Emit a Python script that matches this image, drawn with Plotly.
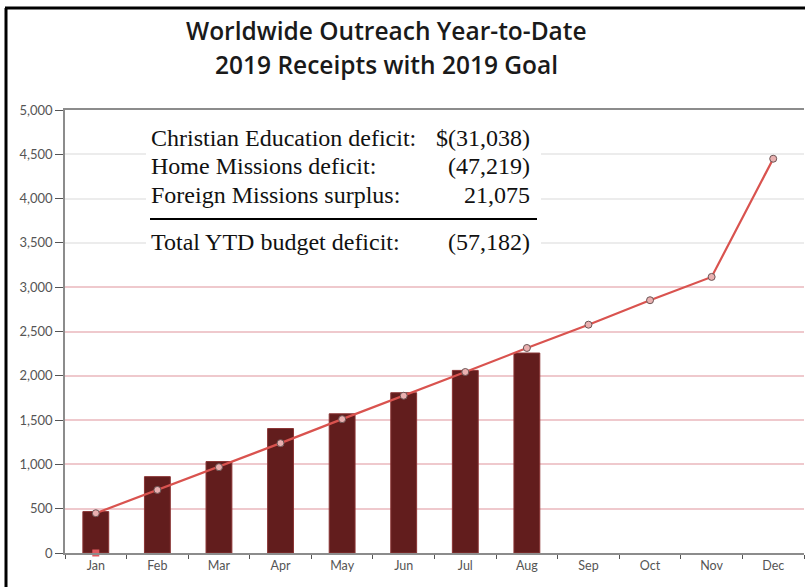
import plotly.graph_objects as go

months = ["Jan", "Feb", "Mar", "Apr", "May", "Jun", "Jul", "Aug", "Sep", "Oct", "Nov", "Dec"]
receipts = [467, 862, 1032, 1405, 1571, 1809, 2061, 2257]
goal = [449, 712, 969, 1240, 1511, 1775, 2043, 2314, 2577, 2853, 3116, 4450]
start_marker = [0]
y_ticks = [0, 500, 1000, 1500, 2000, 2500, 3000, 3500, 4000, 4500, 5000]
pink_grid_ticks = [500, 1000, 1500, 2000, 2500, 3000]

summary_labels = ["Christian Education deficit:", "Home Missions deficit:",
                  "Foreign Missions surplus:", "Total YTD budget deficit:"]
summary_values = ["$(31,038)", "(47,219)", "21,075", "(57,182)"]

L, R, T, B = 65, 1, 110, 34
W, H = 805, 587
pw, ph = W - L - R, H - T - B

def px(x):
    return (x - L) / pw

def py(y):
    return (H - B - y) / ph

fig = go.Figure()
fig.add_trace(go.Bar(x=months[:len(receipts)], y=receipts, width=0.42,
                     marker=dict(color="#621d1d", line=dict(color="#8a3434", width=1)),
                     showlegend=False))
fig.add_trace(go.Scatter(x=months, y=goal, mode="lines+markers",
                         line=dict(color="#d9534f", width=2.2),
                         marker=dict(symbol="circle", size=7, color="#e9b0b0",
                                     line=dict(color="#6b5555", width=1)),
                         showlegend=False))
fig.add_trace(go.Scatter(x=months[:1], y=start_marker, mode="markers", yaxis="y2",
                         marker=dict(symbol="square", size=7, color="#e05a5f"),
                         cliponaxis=False, showlegend=False))

shapes = [
    dict(type="rect", xref="paper", yref="paper", x0=px(146), x1=px(541), y0=py(257), y1=py(121),
         fillcolor="white", line=dict(width=0), layer="above"),
    dict(type="line", xref="paper", yref="paper", x0=px(150), x1=px(537), y0=py(219), y1=py(219),
         line=dict(color="black", width=2), layer="above"),
    dict(type="line", xref="paper", yref="paper", x0=px(6), x1=px(6), y0=py(8), y1=py(600),
         line=dict(color="black", width=3)),
    dict(type="line", xref="paper", yref="paper", x0=px(5), x1=px(810), y0=py(8), y1=py(8),
         line=dict(color="black", width=3)),
]

title_font = dict(family="Open Sans", size=24.5, color="#1a1a1a", weight=600)
annotations = [
    dict(text="Worldwide Outreach Year-to-Date", xref="paper", yref="paper",
         x=px(386), y=py(30), showarrow=False, xanchor="center", yanchor="middle",
         font=title_font),
    dict(text="2019 Receipts with 2019 Goal", xref="paper", yref="paper",
         x=px(386), y=py(65), showarrow=False, xanchor="center", yanchor="middle",
         font=title_font),
]
rows_y = [138, 166, 195, 242]
serif = dict(family="Liberation Serif", size=24, color="#111")
for lab, val, yy in zip(summary_labels, summary_values, rows_y):
    annotations.append(dict(text=lab, xref="paper", yref="paper", x=px(149), y=py(yy),
                            showarrow=False, xanchor="left", yanchor="middle", font=serif))
    annotations.append(dict(text=val, xref="paper", yref="paper", x=px(532), y=py(yy),
                            showarrow=False, xanchor="right", yanchor="middle", font=serif))

fig.update_layout(
    width=W, height=H,
    margin=dict(l=L, r=R, t=T, b=B),
    paper_bgcolor="white", plot_bgcolor="white",
    shapes=shapes, annotations=annotations,
    xaxis=dict(type="category", categoryorder="array", categoryarray=months,
               showline=True, linecolor="#8c8c8c", linewidth=1.5, mirror=True,
               ticks="outside", tickson="boundaries", ticklen=4, tickcolor="#555",
               tickfont=dict(family="Lato", size=12.5, color="#555"),
               showgrid=False, range=[-0.5, 11.5]),
    yaxis=dict(range=[0, 5000], tickvals=y_ticks, tickformat=",",
               showline=True, linecolor="#8c8c8c", linewidth=1.5,
               ticks="outside", ticklen=8, tickcolor="#555",
               tickfont=dict(family="Lato", size=13, color="#555"),
               showgrid=True, gridcolor="#ececec", gridwidth=1.5, zeroline=False),
    yaxis2=dict(range=[0, 5000], overlaying="y", side="left", tickvals=pink_grid_ticks,
                showticklabels=False, ticks="", showline=False,
                showgrid=True, gridcolor="#efc9cd", gridwidth=1.5, zeroline=False),
)

fig.write_html("out.html", config={"displayModeBar": False},
               post_script="document.body.style.margin='0';")
